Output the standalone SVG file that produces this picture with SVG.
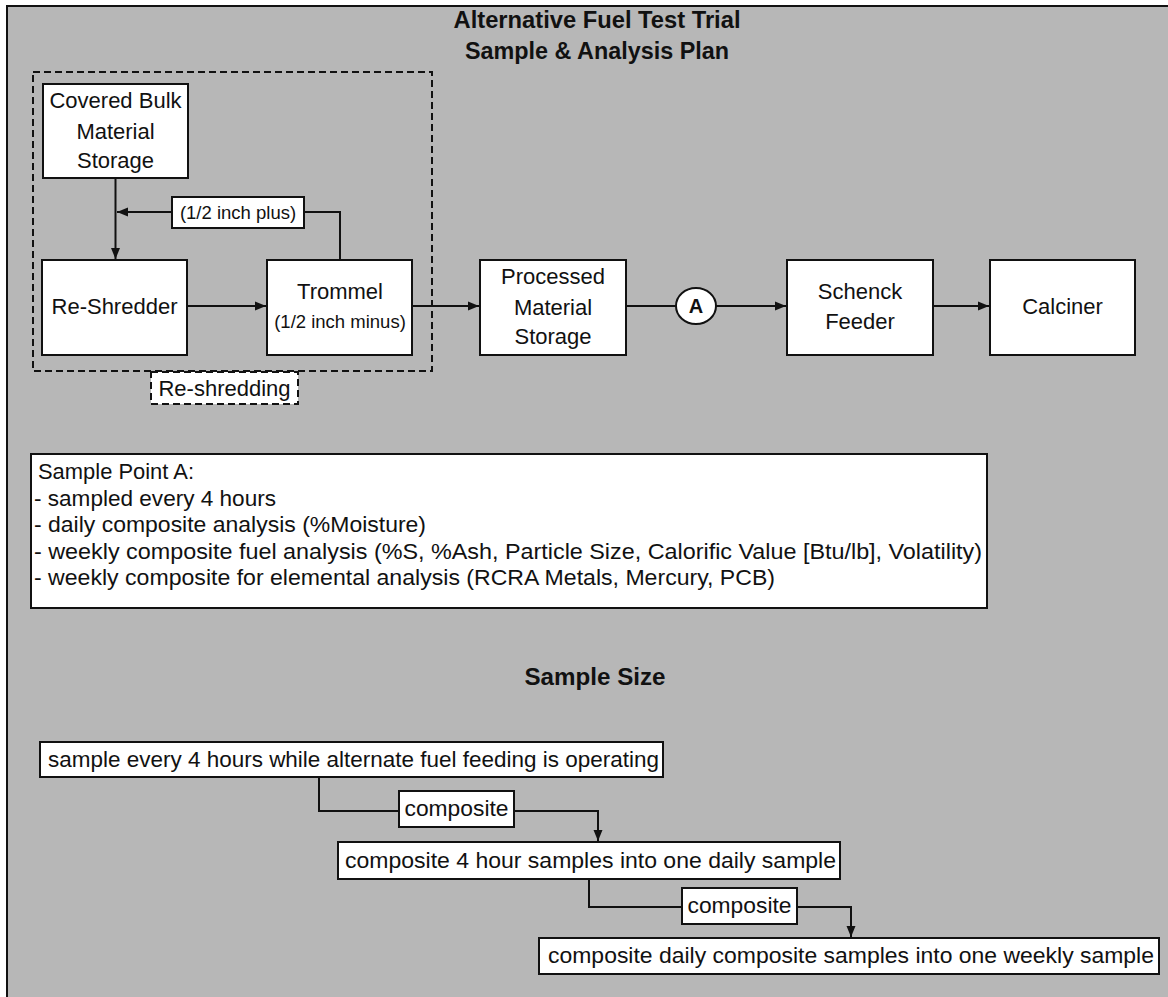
<svg xmlns="http://www.w3.org/2000/svg" width="1168" height="997" viewBox="0 0 1168 997">
<style>
text{font-family:"Liberation Sans",Arial,sans-serif;fill:#111;}
.t{font-size:22px;}
.s{font-size:18.5px;}
.b{font-weight:bold;font-size:23px;}
.box{fill:#fff;stroke:#111;stroke-width:2;}
.dash{fill:none;stroke:#111;stroke-width:2;stroke-dasharray:7 4;}
.dbox{fill:#fff;stroke:#111;stroke-width:2;stroke-dasharray:7 4;}
.ln{fill:none;stroke:#111;stroke-width:2;}
</style>
<defs>
<marker id="ah" markerUnits="userSpaceOnUse" markerWidth="12" markerHeight="10" refX="11" refY="5" orient="auto">
<path d="M0,0.5 L11,5 L0,9.5 z" fill="#111"/>
</marker>
</defs>
<rect x="0" y="0" width="1168" height="997" fill="#fff"/>
<rect x="7" y="6" width="1170" height="1000" fill="#b7b7b7" stroke="#111" stroke-width="2"/>

<g id="title">
<text class="b" x="597" y="28" text-anchor="middle" textLength="287" lengthAdjust="spacingAndGlyphs">Alternative Fuel Test Trial</text>
<text class="b" x="597" y="59" text-anchor="middle" textLength="264" lengthAdjust="spacingAndGlyphs">Sample &amp; Analysis Plan</text>
</g>

<g id="reshredding-group">
<rect class="dash" x="33" y="72" width="399" height="299"/>
</g>

<g id="connectors">
<line class="ln" x1="115.5" y1="178" x2="115.5" y2="259" marker-end="url(#ah)"/>
<polyline class="ln" points="340,260 340,212 304,212"/>
<line class="ln" x1="172" y1="212" x2="117" y2="212" marker-end="url(#ah)"/>
<line class="ln" x1="187" y1="306" x2="266" y2="306" marker-end="url(#ah)"/>
<line class="ln" x1="412" y1="306" x2="479" y2="306" marker-end="url(#ah)"/>
<line class="ln" x1="626" y1="306" x2="676" y2="306"/>
<line class="ln" x1="716" y1="306" x2="786" y2="306" marker-end="url(#ah)"/>
<line class="ln" x1="933" y1="306" x2="989" y2="306" marker-end="url(#ah)"/>
<polyline class="ln" points="319,777 319,811 399,811"/>
<polyline class="ln" points="514,811 598,811 598,841" marker-end="url(#ah)"/>
<polyline class="ln" points="589,879 589,907 682,907"/>
<polyline class="ln" points="797,907 851,907 851,937" marker-end="url(#ah)"/>
</g>

<g id="covered-bulk">
<rect class="box" x="43" y="84" width="145" height="94"/>
<text class="t" x="115.5" y="108" text-anchor="middle">Covered Bulk</text>
<text class="t" x="115.5" y="139" text-anchor="middle">Material</text>
<text class="t" x="115.5" y="168" text-anchor="middle">Storage</text>
</g>

<g id="half-inch-plus">
<rect class="box" x="172" y="197" width="132" height="31"/>
<text class="s" x="238" y="219" text-anchor="middle">(1/2 inch plus)</text>
</g>

<g id="re-shredder">
<rect class="box" x="42" y="260" width="145" height="95"/>
<text class="t" x="114.5" y="314" text-anchor="middle">Re-Shredder</text>
</g>

<g id="trommel">
<rect class="box" x="267" y="260" width="145" height="95"/>
<text class="t" x="340" y="299" text-anchor="middle">Trommel</text>
<text class="s" x="340" y="328" text-anchor="middle">(1/2 inch minus)</text>
</g>

<g id="re-shredding-label">
<rect class="dbox" x="151" y="372" width="147" height="32"/>
<text class="t" x="224.5" y="396" text-anchor="middle">Re-shredding</text>
</g>

<g id="processed">
<rect class="box" x="480" y="260" width="146" height="95"/>
<text class="t" x="553" y="284" text-anchor="middle">Processed</text>
<text class="t" x="553" y="315" text-anchor="middle">Material</text>
<text class="t" x="553" y="344" text-anchor="middle">Storage</text>
</g>

<g id="point-a">
<ellipse class="box" cx="696" cy="306" rx="20" ry="18"/>
<text x="696" y="313" text-anchor="middle" style="font-weight:bold;font-size:20px">A</text>
</g>

<g id="schenck">
<rect class="box" x="787" y="260" width="146" height="95"/>
<text class="t" x="860" y="299" text-anchor="middle">Schenck</text>
<text class="t" x="860" y="329" text-anchor="middle">Feeder</text>
</g>

<g id="calciner">
<rect class="box" x="990" y="260" width="145" height="95"/>
<text class="t" x="1062.5" y="314" text-anchor="middle">Calciner</text>
</g>

<g id="sample-point-a">
<rect class="box" x="31" y="454" width="956" height="154"/>
<text class="t" x="38" y="479" textLength="156" lengthAdjust="spacingAndGlyphs">Sample Point A:</text>
<text class="t" x="34" y="506" textLength="242" lengthAdjust="spacingAndGlyphs">- sampled every 4 hours</text>
<text class="t" x="34" y="532" textLength="392" lengthAdjust="spacingAndGlyphs">- daily composite analysis (%Moisture)</text>
<text class="t" x="34" y="559" textLength="948" lengthAdjust="spacingAndGlyphs">- weekly composite fuel analysis (%S, %Ash, Particle Size, Calorific Value [Btu/lb], Volatility)</text>
<text class="t" x="34" y="585" textLength="741" lengthAdjust="spacingAndGlyphs">- weekly composite for elemental analysis (RCRA Metals, Mercury, PCB)</text>
</g>

<g id="sample-size-title">
<text class="b" x="595" y="685" text-anchor="middle" textLength="141" lengthAdjust="spacingAndGlyphs">Sample Size</text>
</g>

<g id="every-4-hours">
<rect class="box" x="40" y="742" width="623" height="35"/>
<text class="t" x="48" y="767" textLength="611" lengthAdjust="spacingAndGlyphs">sample every 4 hours while alternate fuel feeding is operating</text>
</g>

<g id="composite-1">
<rect class="box" x="399" y="791" width="115" height="36"/>
<text class="t" x="456.5" y="816" text-anchor="middle" textLength="104" lengthAdjust="spacingAndGlyphs">composite</text>
</g>

<g id="daily-sample">
<rect class="box" x="338" y="842" width="502" height="37"/>
<text class="t" x="345" y="868" textLength="491" lengthAdjust="spacingAndGlyphs">composite 4 hour samples into one daily sample</text>
</g>

<g id="composite-2">
<rect class="box" x="682" y="888" width="115" height="36"/>
<text class="t" x="739.5" y="913" text-anchor="middle" textLength="104" lengthAdjust="spacingAndGlyphs">composite</text>
</g>

<g id="weekly-sample">
<rect class="box" x="539" y="938" width="620" height="36"/>
<text class="t" x="548" y="963" textLength="606" lengthAdjust="spacingAndGlyphs">composite daily composite samples into one weekly sample</text>
</g>
</svg>
